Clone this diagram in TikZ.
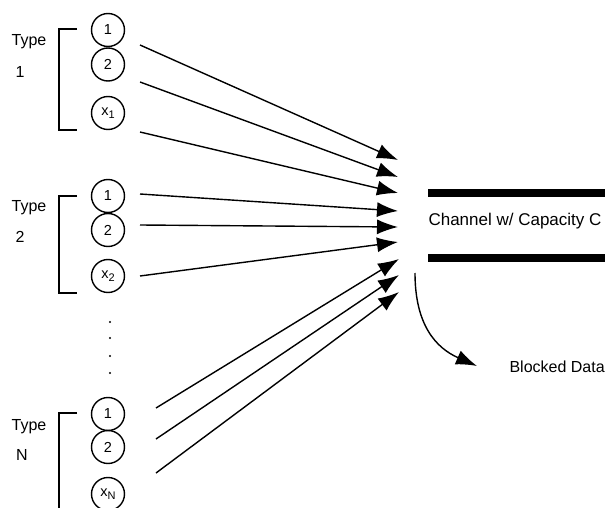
\documentclass[tikz,border=0pt]{standalone}
\usepackage{fontspec}
\setmainfont{Liberation Sans}
\usetikzlibrary{arrows.meta}
\newcommand{\subidx}[1]{\raisebox{-0.45ex}{\fontsize{11}{11}\selectfont #1}}
\begin{document}
\begin{tikzpicture}[x=1pt,y=-1pt,
  src/.style={circle,draw,line width=1.4pt,minimum size=33pt,inner sep=0pt,font=\fontsize{14.5}{14.5}\selectfont},
  flow/.style={line width=1.4pt,-{Latex[length=21pt,width=15pt]}},
  brack/.style={line width=1.4pt},
  lbl/.style={font=\fontsize{16}{16}\selectfont},
  bar/.style={line width=8pt}]
\useasboundingbox (0,0) rectangle (605,508);

% ---- source groups ----
\foreach \g/\ya/\yb/\yc/\sub in {1/30/64.5/113/1, 2/196/230/276/2, N/414/447/494/N}{
  \node[src] (c\g a) at (108,\ya) {1};
  \node[src] (c\g b) at (108,\yb) {2};
  \node[src] (c\g c) at (108,\yc) {x\subidx{\sub}};
}

% brackets
\draw[brack] (77,29) -- (59,29) -- (59,130) -- (77,130);
\draw[brack] (77,196) -- (59,196) -- (59,293) -- (77,293);
\draw[brack] (77,413) -- (59,413) -- (59,510);

% group labels
\node[lbl] (t1) at (29,42) {Type};
\node[lbl] (n1) at (20,72) {1};
\node[lbl] (t2) at (29,208) {Type};
\node[lbl] (n2) at (20,237) {2};
\node[lbl] (tN) at (29,427) {Type};
\node[lbl] (nN) at (22,455) {N};

% vertical ellipsis
\foreach \y [count=\i] in {322,338,356,373}
  \fill (110,\y) circle (1.2pt) coordinate (d\i);

% ---- connector ends ----
\coordinate (s1a) at (140,45);  \coordinate (e1a) at (398,160);
\coordinate (s1b) at (140,82);  \coordinate (e1b) at (398,177);
\coordinate (s1c) at (140,132); \coordinate (e1c) at (398,193);
\coordinate (s2a) at (140,194); \coordinate (e2a) at (398,211);
\coordinate (s2b) at (140,225); \coordinate (e2b) at (398,227);
\coordinate (s2c) at (140,276); \coordinate (e2c) at (398,242);
\coordinate (sNa) at (156,408); \coordinate (eNa) at (399,259);
\coordinate (sNb) at (156,439); \coordinate (eNb) at (399,275);
\coordinate (sNc) at (156,473); \coordinate (eNc) at (399,292);

\foreach \k in {1a,1b,1c,2a,2b,2c,Na,Nb,Nc}
  \draw[flow] (s\k) -- (e\k);

% ---- channel ----
\coordinate (ch1) at (428,193); \coordinate (ch2) at (605,193);
\coordinate (ch3) at (428,258); \coordinate (ch4) at (605,258);
\draw[bar] (ch1) -- (ch2);
\draw[bar] (ch3) -- (ch4);
\node[font=\fontsize{17}{17}\selectfont] (chan) at (515,221) {Channel w/ Capacity C};

% ---- blocked data ----
\coordinate (bstart) at (415,273);
\node[font=\fontsize{16}{16}\selectfont,anchor=west] (blk) at (506,367) {Blocked Data};
\coordinate (bend) at (477,366);
\draw[line width=1.4pt,-{Latex[length=21pt,width=15pt]}]
  (bstart) .. controls (415,325) and (436,348) .. (bend);
\end{tikzpicture}
\end{document}
